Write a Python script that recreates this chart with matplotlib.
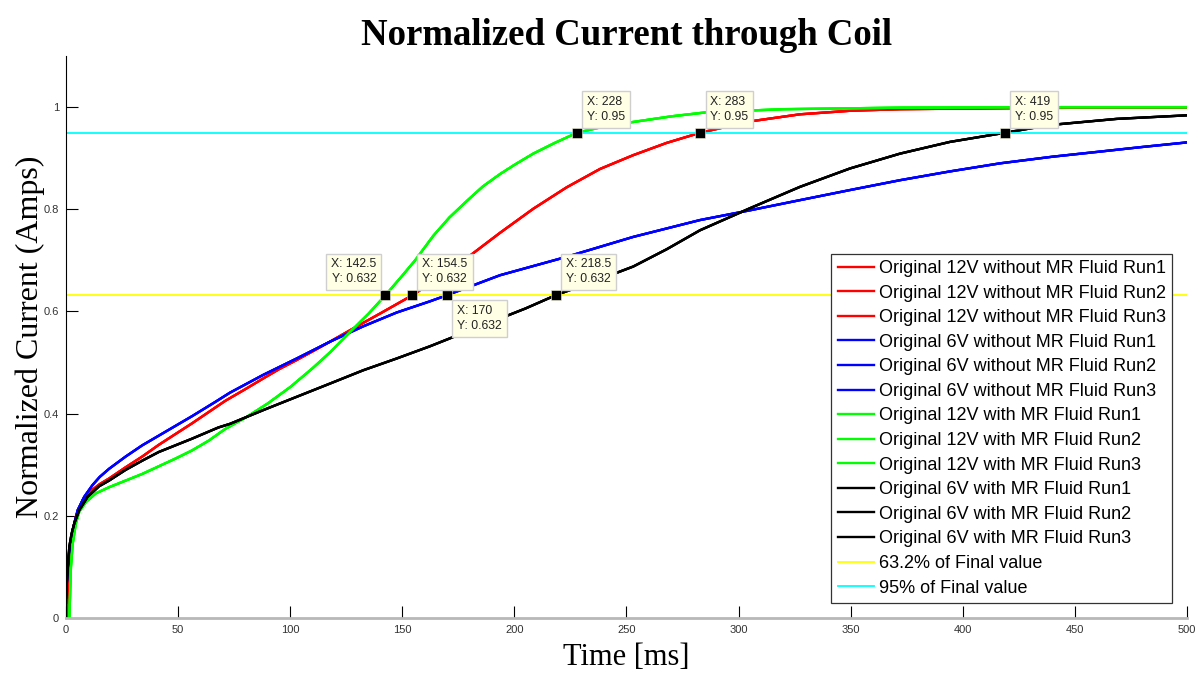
import matplotlib
matplotlib.use("Agg")
import matplotlib.pyplot as plt

# time [ms] and normalized current
t_red = [0.5, 1.0, 1.5, 2.2, 3.0, 4.4, 5.9, 7.4, 9.5, 11.8, 15, 19.2, 26.6, 34, 41.4, 48.8, 56.2, 63.6, 71, 80,
         88, 95, 102.9, 110, 117.8, 128.2, 140.1, 155, 166, 181, 193.6, 208.4, 223.3, 238.2, 253, 267.9, 283,
         305, 327.4, 350, 372, 420, 460, 500]
i_red = [0, 0.07, 0.11, 0.146, 0.172, 0.198, 0.215, 0.23, 0.242, 0.251, 0.262, 0.273, 0.295, 0.316, 0.339, 0.36,
         0.381, 0.403, 0.425, 0.448, 0.469, 0.487, 0.505, 0.522, 0.541, 0.567, 0.596, 0.633, 0.666, 0.712, 0.754,
         0.801, 0.843, 0.879, 0.906, 0.930, 0.95, 0.972, 0.986, 0.993, 0.996, 0.998, 0.999, 0.999]

t_blue = [0, 0.5, 1.5, 3.0, 5.2, 8.1, 11.8, 15, 19.2, 26.6, 34, 41.4, 48.8, 56.2, 66.6, 73.1, 88, 102.9, 117.8,
          132.6, 147.5, 162.4, 170, 193.6, 223.3, 253, 282.8, 305, 327.4, 350, 372, 394, 416.6, 440, 461.2, 480, 500]
i_blue = [0.03, 0.08, 0.133, 0.172, 0.211, 0.237, 0.26, 0.276, 0.292, 0.316, 0.338, 0.357, 0.376, 0.395, 0.423,
          0.441, 0.476, 0.508, 0.541, 0.571, 0.598, 0.620, 0.632, 0.671, 0.707, 0.746, 0.779, 0.798, 0.818, 0.838,
          0.857, 0.874, 0.890, 0.903, 0.913, 0.922, 0.931]

t_green = [1.5, 2.2, 3.0, 4.4, 5.9, 8.9, 13.3, 19.2, 26.6, 34, 41.4, 48.8, 56.2, 63.6, 71, 80, 90, 100, 110,
           118, 126.7, 135, 142.5, 149, 155.7, 163.8, 171, 178.7, 186, 193.6, 200, 208.4, 218, 228, 240,
           253, 270, 285.8, 320, 372, 430, 500]
i_green = [0, 0.10, 0.146, 0.185, 0.208, 0.227, 0.244, 0.256, 0.269, 0.282, 0.297, 0.312, 0.328, 0.347, 0.37,
           0.392, 0.42, 0.452, 0.489, 0.521, 0.560, 0.596, 0.632, 0.665, 0.70, 0.748, 0.784, 0.816, 0.845, 0.869,
           0.887, 0.909, 0.93, 0.95, 0.962, 0.971, 0.982, 0.99, 0.996, 0.999, 1.0, 1.0]

t_black = [0, 0.5, 1.5, 2.5, 3.7, 5.9, 9.6, 14.8, 19.2, 26.6, 34, 41.4, 48.8, 56.2, 68, 73.1, 88, 102.9, 117.8,
           132.6, 147.5, 162.4, 175, 190, 205, 218.5, 235, 253, 268, 282.8, 305, 327.4, 349.7, 372, 394.3, 419,
           438.9, 468.6, 500]
i_black = [0.04, 0.08, 0.14, 0.165, 0.185, 0.211, 0.237, 0.258, 0.269, 0.29, 0.308, 0.325, 0.338, 0.351, 0.373,
           0.380, 0.407, 0.433, 0.459, 0.485, 0.508, 0.532, 0.554, 0.580, 0.606, 0.632, 0.658, 0.688, 0.722, 0.759,
           0.802, 0.844, 0.880, 0.909, 0.932, 0.95, 0.965, 0.977, 0.984]

runs = ["Run1", "Run2", "Run3"]
conditions = ["Original 12V without MR Fluid", "Original 6V without MR Fluid",
              "Original 12V with MR Fluid", "Original 6V with MR Fluid"]

level_632 = 0.632
level_95 = 0.95

# data tips: x, y, which side the box sits on
tip_x = [142.5, 154.5, 170, 218.5, 228, 283, 419]
tip_y = [0.632, 0.632, 0.632, 0.632, 0.95, 0.95, 0.95]
tip_side = ["ul", "ur", "lr", "ur", "ur", "ur", "ur"]

fig = plt.figure(figsize=(12.02, 6.73), dpi=100)
ax = fig.add_axes([0.0549, 0.0817, 0.9326, 0.835])

curves = [(t_red, i_red, (1, 0, 0)), (t_blue, i_blue, (0, 0, 1)),
          (t_green, i_green, (0, 1, 0)), (t_black, i_black, (0, 0, 0))]
for cond, (t, i, col) in zip(conditions, curves):
    for r in runs:
        ax.plot(t, i, color=col, lw=1.7, label=f"{cond} {r}")

ax.plot([0, 500], [level_632, level_632], color=(1, 1, 0), lw=1.3, label="63.2% of Final value")
ax.plot([0, 500], [level_95, level_95], color=(0, 1, 1), lw=1.3, label="95% of Final value")

for x, y, side in zip(tip_x, tip_y, tip_side):
    ax.plot(x, y, "s", color="k", ms=6.5, mec="#f5f5dc", mew=0.4, zorder=5)
    dx = -9 if side[1] == "l" else 10
    dy = 10 if side[0] == "u" else -10
    ax.annotate(f"X: {x:g}\nY: {y:g}", (x, y), xytext=(dx, dy), textcoords="offset pixels",
                ha="right" if dx < 0 else "left", va="bottom" if dy > 0 else "top",
                fontsize=8.8, family="Liberation Sans", color="#222222", linespacing=1.3,
                bbox=dict(boxstyle="square,pad=0.4", fc="#ffffe6", ec="#cfcfcf", lw=1), zorder=6)

ax.set_xlim(0, 500)
ax.set_ylim(0, 1.1)
ax.set_xticks(range(0, 501, 50))
ax.set_yticks([0, 0.2, 0.4, 0.6, 0.8, 1])
ax.set_yticklabels(["0", "0.2", "0.4", "0.6", "0.8", "1"])
ax.tick_params(direction="in", length=8.6, width=0.8, labelsize=8, labelcolor="#333333", pad=5)
for lab in ax.get_xticklabels() + ax.get_yticklabels():
    lab.set_family("Liberation Sans")
ax.spines["top"].set_visible(False)
ax.spines["right"].set_visible(False)
ax.spines["left"].set_linewidth(0.8)
ax.spines["bottom"].set_color("#b8b8b8")
ax.spines["bottom"].set_linewidth(2)

ax.set_title("Normalized Current through Coil", fontsize=26.5, fontweight="bold",
             family="Liberation Serif", pad=8)
ax.set_xlabel("Time [ms]", fontsize=22, family="Liberation Serif", labelpad=6)
ax.set_ylabel("Normalized Current (Amps)", fontsize=23, family="Liberation Serif", labelpad=-1)

leg = ax.legend(loc="lower right", bbox_to_anchor=(0.987, 0.027), borderaxespad=0,
                prop={"family": "Liberation Sans", "size": 13}, frameon=True, fancybox=False,
                edgecolor="#333333", framealpha=1, handlelength=2.0, handletextpad=0.3,
                labelspacing=0.42, borderpad=0.35)
leg.get_frame().set_linewidth(0.9)

fig.savefig("out.png", dpi=100)
